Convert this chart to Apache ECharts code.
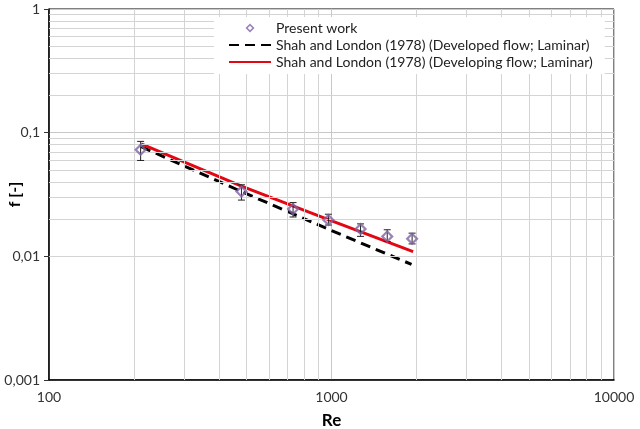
<!DOCTYPE html>
<html lang="en" style="background: #FFFFFF;height: 100%">
<head>
    <meta charset="utf-8" />
    <title>f vs Re</title>
    <script src="https://cdn.jsdelivr.net/npm/echarts@6/dist/echarts.min.js"></script>
</head>
<body style="margin: 0;height: 100%">
    <div id="chart" style="width:640px;height:429px"></div>
    <script>
    // measured points (Present work)
    let reData = [211, 480, 731, 975, 1267, 1575, 1929]
    let fData = [0.0726, 0.0334, 0.0241, 0.0197, 0.0166, 0.0145, 0.0139]
    let fLow = [0.0596, 0.0285, 0.0208, 0.0179, 0.0145, 0.0132, 0.0126]
    let fHigh = [0.0850, 0.0379, 0.0272, 0.0219, 0.0183, 0.0164, 0.0154]

    // Shah and London curves
    let reDeveloped = [212, 480, 986, 1920]
    let fDeveloped = [0.0770, 0.0334, 0.0164, 0.0086]
    let reDeveloping = [212, 480, 986, 1945]
    let fDeveloping = [0.0813, 0.0370, 0.0196, 0.0109]

    // minor grid positions
    let xMinor = [200, 300, 400, 500, 600, 700, 800, 900, 2000, 3000, 4000, 5000, 6000, 7000, 8000, 9000]
    let yMinor = [0.002, 0.003, 0.004, 0.005, 0.006, 0.007, 0.008, 0.009,
        0.02, 0.03, 0.04, 0.05, 0.06, 0.07, 0.08, 0.09,
        0.2, 0.3, 0.4, 0.5, 0.6, 0.7, 0.8, 0.9]

    let names = ['Present work', 'Shah and London (1978) (Developed flow; Laminar)', 'Shah and London (1978) (Developing flow; Laminar)']
    let font = 'Lato, "Open Sans", sans-serif'
    // hollow diamond (outer clockwise, inner counter-clockwise => hole)
    let diamond = 'path://M0,-6L6,0L0,6L-6,0Z M0,-3.1L-3.1,0L0,3.1L3.1,0Z'
    let noSymbol = { color: 'rgba(0,0,0,0)', borderColor: 'rgba(0,0,0,0)', borderWidth: 0 }

    let chart = echarts.init(document.getElementById('chart'))

    let gridMarks = xMinor.map(v => ({ xAxis: v })).concat(yMinor.map(v => ({ yAxis: v })))

    chart.setOption({
        animation: false,
        grid: {
            left: 49, right: 26, top: 9, bottom: 49,
            outerBoundsMode: 'none', containLabel: false,
            show: true, borderColor: '#000', borderWidth: 1
        },
        legend: {
            orient: 'vertical',
            left: 214,
            top: 17,
            z: 20,
            padding: [4, 12, 5, 14],
            backgroundColor: '#fff',
            itemWidth: 42,
            itemHeight: 9,
            itemGap: 3,
            textStyle: { fontFamily: font, fontSize: 14, color: '#222' },
            data: [
                { name: names[0], icon: diamond },
                { name: names[1], itemStyle: noSymbol },
                { name: names[2], itemStyle: noSymbol }
            ]
        },
        xAxis: {
            type: 'log',
            min: 100,
            max: 10000,
            logBase: 10,
            name: 'Re',
            nameLocation: 'middle',
            nameGap: 32,
            nameMoveOverlap: false,
            nameTextStyle: { fontFamily: font, fontSize: 17, fontWeight: 'bold', color: '#000' },
            axisLine: { lineStyle: { color: '#000', width: 1.5 } },
            axisTick: { show: false },
            axisLabel: { fontFamily: font, fontSize: 14, color: '#333', margin: 10, formatter: v => String(v) },
            splitLine: { lineStyle: { color: '#c8c8c8', width: 1 } }
        },
        yAxis: {
            type: 'log',
            min: 0.001,
            max: 1,
            logBase: 10,
            name: 'f [-]',
            nameLocation: 'middle',
            nameGap: 26,
            nameRotate: 90,
            nameMoveOverlap: false,
            nameTextStyle: { fontFamily: font, fontSize: 16, fontWeight: 'bold', color: '#000' },
            axisLine: { lineStyle: { color: '#000', width: 1.5 } },
            axisTick: { show: true, length: 5, lineStyle: { color: '#333' } },
            axisLabel: {
                fontFamily: font, fontSize: 14, color: '#333', margin: 9,
                formatter: v => String(+v.toPrecision(3)).replace('.', ',')
            },
            splitLine: { lineStyle: { color: '#c8c8c8', width: 1 } }
        },
        series: [
            {
                // minor grid lines
                type: 'line',
                data: [],
                silent: true,
                z: 0,
                markLine: {
                    silent: true,
                    symbol: ['none', 'none'],
                    label: { show: false },
                    lineStyle: { color: '#d4d4d4', width: 1, type: 'solid' },
                    data: gridMarks
                }
            },
            {
                name: names[1],
                type: 'line',
                symbol: 'none',
                lineStyle: { color: '#000', width: 3, type: [10, 6] },
                itemStyle: { color: '#000' },
                z: 3,
                data: reDeveloped.map((r, i) => [r, fDeveloped[i]])
            },
            {
                name: names[2],
                type: 'line',
                symbol: 'none',
                lineStyle: { color: '#e30613', width: 3 },
                itemStyle: { color: '#e30613' },
                z: 4,
                data: reDeveloping.map((r, i) => [r, fDeveloping[i]])
            },
            {
                // error bars
                type: 'custom',
                silent: true,
                z: 5,
                data: reData.map((r, i) => [r, fLow[i], fHigh[i]]),
                renderItem: function(params, api) {
                    let lo = api.coord([api.value(0), api.value(1)])
                    let hi = api.coord([api.value(0), api.value(2)])
                    let cap = 3.5
                    let style = { stroke: '#222', lineWidth: 1 }
                    return {
                        type: 'group',
                        children: [
                            { type: 'line', shape: { x1: lo[0], y1: lo[1], x2: hi[0], y2: hi[1] }, style: style },
                            { type: 'line', shape: { x1: lo[0] - cap, y1: lo[1], x2: lo[0] + cap, y2: lo[1] }, style: style },
                            { type: 'line', shape: { x1: hi[0] - cap, y1: hi[1], x2: hi[0] + cap, y2: hi[1] }, style: style }
                        ]
                    }
                }
            },
            {
                name: names[0],
                type: 'scatter',
                symbol: diamond,
                symbolSize: 13,
                symbolKeepAspect: true,
                z: 6,
                itemStyle: { color: '#8064a2' },
                data: reData.map((r, i) => [r, fData[i]])
            }
        ]
    })
    </script>
</body>
</html>
